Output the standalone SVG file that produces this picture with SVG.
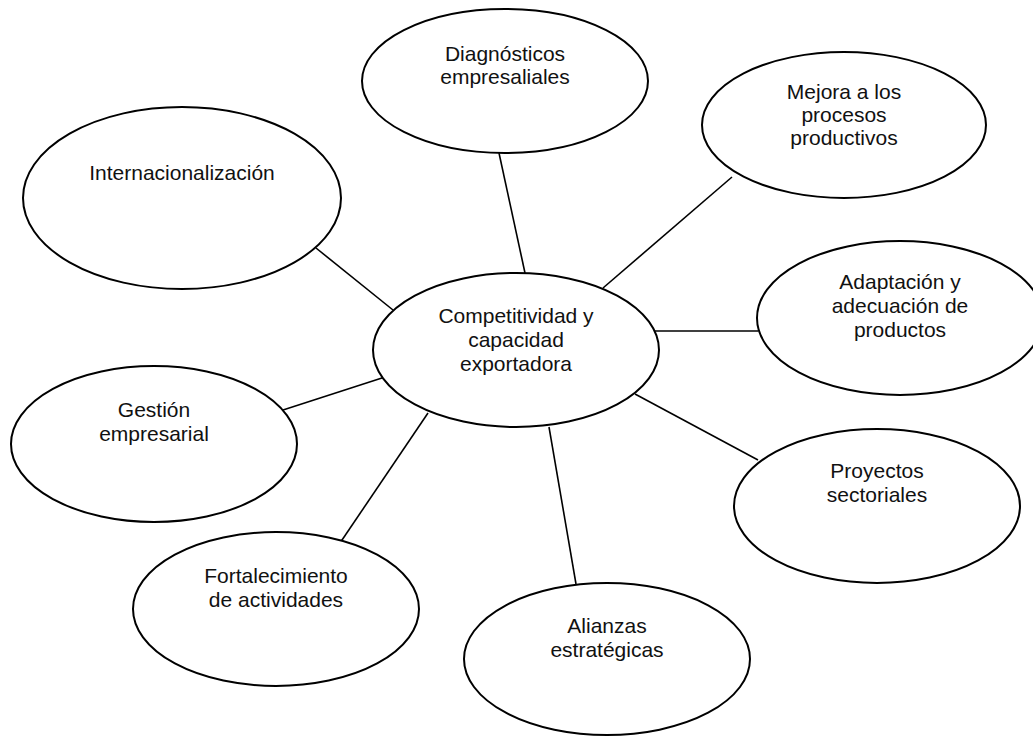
<svg xmlns="http://www.w3.org/2000/svg" width="1033" height="736" viewBox="0 0 1033 736">
<style>
.n{fill:#fff;stroke:#000;stroke-width:2}
.c line{stroke:#000;stroke-width:1.6}
text{font-family:"Liberation Sans",Arial,sans-serif;font-size:21px;fill:#111;text-anchor:middle}
</style>
<rect width="1033" height="736" fill="#fff"/>
<g id="connectors" class="c">
<line x1="499" y1="153" x2="525" y2="273"/>
<line x1="732" y1="177" x2="603" y2="288"/>
<line x1="316" y1="248" x2="393" y2="310"/>
<line x1="655" y1="331" x2="758" y2="331"/>
<line x1="283" y1="410" x2="385" y2="377"/>
<line x1="635" y1="394" x2="758" y2="460"/>
<line x1="340" y1="543" x2="428" y2="413"/>
<line x1="549" y1="427" x2="576" y2="584"/>
</g>
<g id="center">
<ellipse class="n" cx="516" cy="350" rx="143" ry="77"/>
<text x="516" y="323">Competitividad y<tspan x="516" dy="24">capacidad</tspan><tspan x="516" dy="24">exportadora</tspan></text>
</g>
<g id="diagnosticos">
<ellipse class="n" cx="505" cy="81" rx="143" ry="72"/>
<text x="505" y="61">Diagnósticos<tspan x="505" dy="23">empresaliales</tspan></text>
</g>
<g id="mejora">
<ellipse class="n" cx="844" cy="125" rx="142" ry="73"/>
<text x="844" y="99">Mejora a los<tspan x="844" dy="23">procesos</tspan><tspan x="844" dy="23">productivos</tspan></text>
</g>
<g id="internacionalizacion">
<ellipse class="n" cx="182" cy="198" rx="159" ry="91"/>
<text x="182" y="180">Internacionalización</text>
</g>
<g id="adaptacion">
<ellipse class="n" cx="900" cy="318" rx="143" ry="77"/>
<text x="900" y="289">Adaptación y<tspan x="900" dy="24">adecuación de</tspan><tspan x="900" dy="24">productos</tspan></text>
</g>
<g id="gestion">
<ellipse class="n" cx="154" cy="444" rx="143" ry="78"/>
<text x="154" y="417">Gestión<tspan x="154" dy="24">empresarial</tspan></text>
</g>
<g id="proyectos">
<ellipse class="n" cx="877" cy="506" rx="143" ry="77"/>
<text x="877" y="478">Proyectos<tspan x="877" dy="24">sectoriales</tspan></text>
</g>
<g id="fortalecimiento">
<ellipse class="n" cx="276" cy="609" rx="143" ry="77"/>
<text x="276" y="583">Fortalecimiento<tspan x="276" dy="24">de actividades</tspan></text>
</g>
<g id="alianzas">
<ellipse class="n" cx="607" cy="659" rx="143" ry="76"/>
<text x="607" y="633">Alianzas<tspan x="607" dy="24">estratégicas</tspan></text>
</g>
</svg>
